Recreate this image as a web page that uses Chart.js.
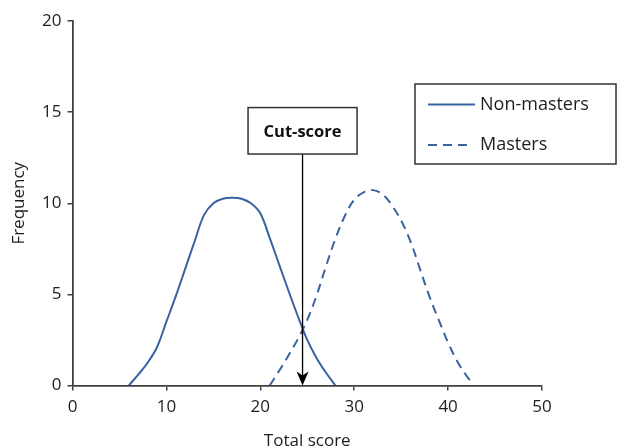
<!DOCTYPE html>
<html>
<head>
<meta charset="utf-8">
<script src="https://cdn.jsdelivr.net/npm/chart.js@4"></script>
<style>
html,body{margin:0;padding:0;background:#fff;}
#wrap{width:617px;height:448px;position:relative;}
</style>
</head>
<body>
<div id="wrap"><canvas id="c" width="617" height="448"></canvas></div>
<script>
// ---- data ----
const nonMastersX = [6, 7, 8, 9, 10, 11, 12, 13, 14, 15, 16, 17, 18, 19, 20, 21, 22, 23, 24, 25, 26, 27, 28];
const nonMastersY = [0, 0.6, 1.25, 2.1, 3.5, 4.9, 6.4, 7.9, 9.35, 10.0, 10.25, 10.3, 10.25, 10.0, 9.45, 8.1, 6.65, 5.2, 3.8, 2.5, 1.5, 0.7, 0];
const mastersX = [21, 22, 23, 24, 25, 26, 27, 28, 29, 30, 31, 32, 33, 34, 35, 36, 37, 38, 39, 40, 41, 42, 42.4];
const mastersY = [0, 0.8, 1.65, 2.55, 3.6, 4.95, 6.55, 8.05, 9.3, 10.2, 10.6, 10.72, 10.5, 9.9, 9.05, 7.9, 6.4, 4.9, 3.6, 2.35, 1.3, 0.5, 0.25];
const seriesLabels = ['Non-masters', 'Masters'];
const cutScore = 24.5;
const cutLabel = 'Cut-score';
const xTicks = [0, 10, 20, 30, 40, 50];
const yTicks = [0, 5, 10, 15, 20];
const xTitle = 'Total score';
const yTitle = 'Frequency';

const BLUE = '#3a62a0';
const AXIS = '#404040';
const TEXT = '#1e1e1e';
const FAMILY = "'Open Sans', 'Noto Sans', sans-serif";
Chart.defaults.font.family = FAMILY;
Chart.defaults.color = TEXT;

const toPts = (xs, ys) => xs.map((x, i) => ({x: x, y: ys[i]}));

const cutPlugin = {
  id: 'cut',
  afterDatasetsDraw(chart) {
    const {ctx, scales} = chart;
    const x = scales.x.getPixelForValue(cutScore);
    const yBottom = scales.y.getPixelForValue(0);
    const boxTop = scales.y.getPixelForValue(15.25);
    const boxBot = scales.y.getPixelForValue(12.7);
    const boxW = 109;
    ctx.save();
    ctx.strokeStyle = '#000';
    ctx.lineWidth = 1.3;
    ctx.beginPath();
    ctx.moveTo(x, boxBot);
    ctx.lineTo(x, yBottom - 8);
    ctx.stroke();
    ctx.fillStyle = '#000';
    ctx.beginPath();
    ctx.moveTo(x, yBottom);
    ctx.lineTo(x - 6, yBottom - 14);
    ctx.lineTo(x, yBottom - 10);
    ctx.lineTo(x + 6, yBottom - 14);
    ctx.closePath();
    ctx.fill();
    ctx.fillStyle = '#fff';
    ctx.fillRect(x - boxW / 2, boxTop, boxW, boxBot - boxTop);
    ctx.strokeStyle = '#333';
    ctx.lineWidth = 1.5;
    ctx.strokeRect(x - boxW / 2, boxTop, boxW, boxBot - boxTop);
    ctx.fillStyle = '#111';
    ctx.font = "bold 16.5px " + FAMILY;
    ctx.textAlign = 'center';
    ctx.textBaseline = 'middle';
    ctx.fillText(cutLabel, x, (boxTop + boxBot) / 2 + 1);
    ctx.restore();
  }
};

const legendPlugin = {
  id: 'boxLegend',
  afterDraw(chart) {
    const {ctx} = chart;
    const L = 415, T = 84, R = 616, B = 164;
    ctx.save();
    ctx.fillStyle = '#fff';
    ctx.fillRect(L, T, R - L, B - T);
    ctx.strokeStyle = '#333';
    ctx.lineWidth = 1.5;
    ctx.strokeRect(L, T, R - L, B - T);
    chart.data.datasets.forEach((ds, i) => {
      const y = i === 0 ? 104.5 : 145;
      ctx.strokeStyle = ds.borderColor;
      ctx.lineWidth = ds.borderWidth;
      ctx.setLineDash(ds.borderDash || []);
      ctx.beginPath();
      ctx.moveTo(428, y);
      ctx.lineTo(i === 0 ? 475 : 470, y);
      ctx.stroke();
      ctx.setLineDash([]);
      ctx.fillStyle = TEXT;
      ctx.font = "18px " + FAMILY;
      ctx.textAlign = 'left';
      ctx.textBaseline = 'middle';
      ctx.fillText(ds.label, 480, y);
    });
    ctx.restore();
  }
};

new Chart(document.getElementById('c'), {
  type: 'line',
  data: {
    datasets: [
      {
        label: seriesLabels[0],
        data: toPts(nonMastersX, nonMastersY),
        borderColor: BLUE,
        borderWidth: 2,
        pointRadius: 0,
        fill: false,
        tension: 0.35
      },
      {
        label: seriesLabels[1],
        data: toPts(mastersX, mastersY),
        borderColor: BLUE,
        borderWidth: 2,
        borderDash: [9, 6],
        pointRadius: 0,
        fill: false,
        tension: 0.35
      }
    ]
  },
  options: {
    responsive: false,
    animation: false,
    devicePixelRatio: 1,
    layout: {padding: {top: 21, right: 75, left: 0, bottom: 0}},
    plugins: {legend: {display: false}, tooltip: {enabled: false}},
    scales: {
      x: {
        type: 'linear',
        min: xTicks[0],
        max: xTicks[xTicks.length - 1],
        afterBuildTicks: (s) => { s.ticks = xTicks.map(v => ({value: v})); },
        afterFit: (s) => { s.height = 62.5; },
        grid: {drawOnChartArea: false, tickLength: 5, tickColor: AXIS, lineWidth: 1.5},
        border: {color: AXIS, width: 1.8},
        ticks: {font: {size: 17}, color: TEXT, padding: 6, maxRotation: 0},
        title: {display: true, text: xTitle, font: {size: 17}, color: TEXT, padding: {top: 0, bottom: -3}}
      },
      y: {
        min: yTicks[0],
        max: yTicks[yTicks.length - 1],
        afterBuildTicks: (s) => { s.ticks = yTicks.map(v => ({value: v})); },
        afterFit: (s) => { s.width = 72.5; },
        grid: {drawOnChartArea: false, tickLength: 5, tickColor: AXIS, lineWidth: 1.5},
        border: {color: AXIS, width: 1.8},
        ticks: {font: {size: 17}, color: TEXT, padding: 6},
        title: {display: true, text: yTitle, font: {size: 17}, color: TEXT, padding: {top: 9, bottom: 0}}
      }
    }
  },
  plugins: [cutPlugin, legendPlugin]
});
</script>
</body>
</html>
